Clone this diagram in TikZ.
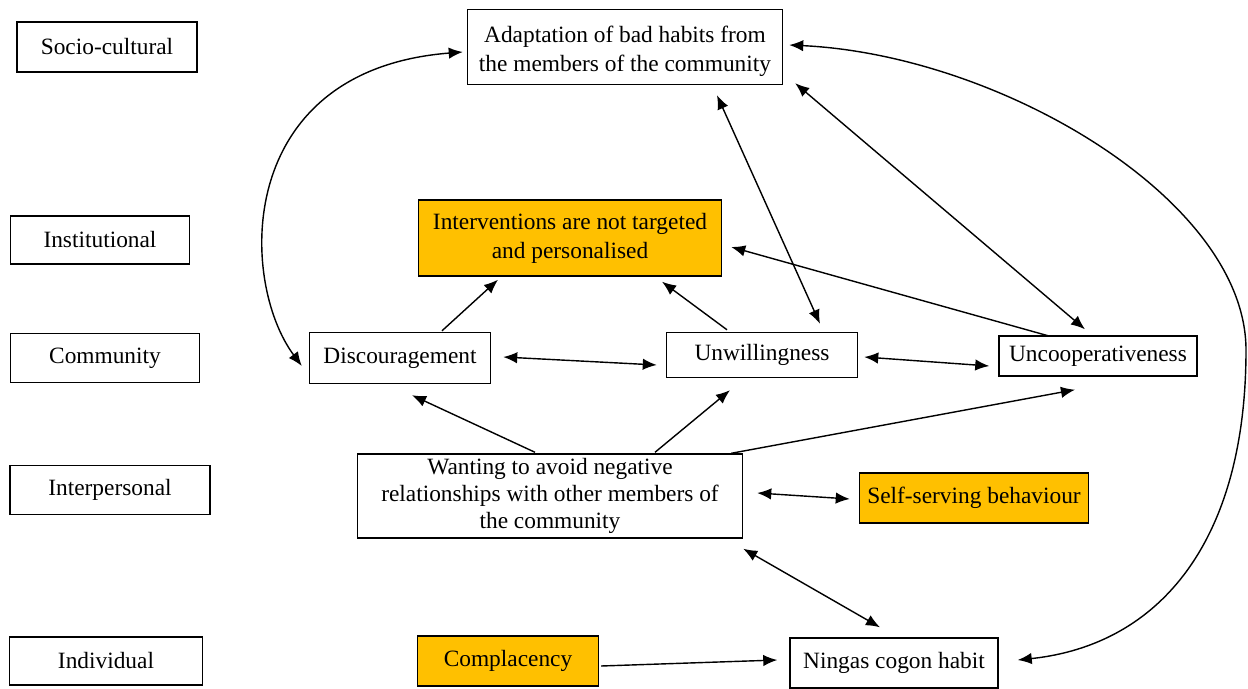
\documentclass[tikz,border=0pt]{standalone}
\usepackage{fontspec}
\setmainfont{Liberation Serif}
\usetikzlibrary{arrows.meta,calc}
\definecolor{amber}{HTML}{FFC000}

\begin{document}
\begin{tikzpicture}[x=0.02cm, y=-0.02cm,
box/.style = {draw, line width=0.8pt, align=center, inner sep=2pt,
              font=\fontsize{13.3}{16.5}\selectfont},
hot/.style = {box, fill=amber},
link/.style = {line width=0.8pt, -{Latex[length=8pt,width=6.5pt]}},
both/.style = {line width=0.8pt,
              {Latex[length=8pt,width=6.5pt]}-{Latex[length=8pt,width=6.5pt]}}
                ]
    \def\u{0.02cm}
    \useasboundingbox (0,0) rectangle (1248,689);

    % levels on the left
    \foreach \x/\y/\w/\h/\t/\n in {107/47/180/50/Socio-cultural/socio,
                                   100/240/179/48/Institutional/inst,
                                   105/358/189/49/Community/comm,
                                   110/490/200/49/Interpersonal/inter,
                                   106/661/193/48/Individual/indiv}
        \node[box, minimum width=\w*\u, minimum height=\h*\u] at (\x,\y) (\n) {\t};

    % factors
    \node[box, minimum width=315*\u, minimum height=75*\u] at (625,47) (adapt)
        {\rule{0pt}{14pt}Adaptation of bad habits from\\the members of the community};
    \node[hot, minimum width=303*\u, minimum height=76*\u] at (570,238) (interv)
        {Interventions are not targeted\\and personalised};
    \node[box, minimum width=181*\u, minimum height=51*\u] at (400,358) (disc) {Discouragement};
    \node[box, minimum width=191*\u, minimum height=45*\u] at (762,355) (unwill) {Unwillingness};
    \node[box, minimum width=198*\u, minimum height=40*\u] at (1098,356) (uncoop) {Uncooperativeness};
    \node[box, font=\fontsize{13.3}{15.2}\selectfont, minimum width=385*\u, minimum height=84*\u]
        at (550,496) (want)
        {Wanting to avoid negative\\relationships with other members of\\the community};
    \node[hot, minimum width=229*\u, minimum height=50*\u] at (974,498) (self) {Self-serving behaviour};
    \node[hot, minimum width=181*\u, minimum height=50*\u] at (508,661) (compl) {Complacency};
    \node[box, minimum width=208*\u, minimum height=50*\u] at (894,663) (ningas) {Ningas cogon habit};

    % links
    \draw[both] ($(adapt.west)+(-4,5)$) .. controls +(-229,18) and +(-63,-85) .. ($(disc.west)+(-7,8)$);
    \draw[both] ($(adapt.south)+(92,10)$) -- ($(unwill.north)+(58,-8)$);
    \draw[both] ($(adapt.south east)+(12,-2)$) -- ($(uncoop.north)+(-13,-6)$);
    \draw[both] ($(adapt.east)+(6,-2)$) .. controls +(211,10) and +(0,-150) .. (1246,350)
                .. controls +(0,190) and +(143,-15) .. ($(ningas.east)+(19,-3)$);
    \draw[link] ($(disc.north)+(42,-1)$) -- ($(interv.south)+(-72,3)$);
    \draw[link] ($(unwill.north)+(-35,-2)$) -- ($(interv.south)+(92,5)$);
    \draw[link] ($(uncoop.north)+(-48,1)$) -- ($(interv.east)+(9,9)$);
    \draw[both] ($(disc.east)+(12,-1)$) -- ($(unwill.west)+(-9,10)$);
    \draw[both] ($(unwill.east)+(6,2)$) -- ($(uncoop.west)+(-9,10)$);
    \draw[link] ($(want.north)+(-15,-1)$) -- ($(disc.south)+(12,11)$);
    \draw[link] ($(want.north)+(105,-1)$) -- ($(unwill.south)+(-32,12)$);
    \draw[link] ($(want.north east)+(-12,0)$) -- ($(uncoop.south)+(-23,13)$);
    \draw[both] ($(want.east)+(14,-3)$) -- ($(self.west)+(-9,1)$);
    \draw[both] ($(want.south east)+(0,10)$) -- ($(ningas.north)+(-14,-10)$);
    \draw[link] ($(compl.east)+(2,5)$) -- ($(ningas.west)+(-12,-3)$);
\end{tikzpicture}
\end{document}
